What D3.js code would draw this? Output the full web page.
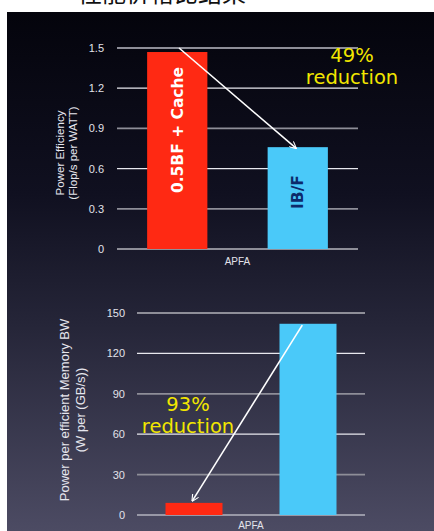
<!DOCTYPE html>
<html>
<head>
<meta charset="utf-8">
<script src="https://cdn.jsdelivr.net/npm/d3@7"></script>
<style>
  html, body { margin: 0; padding: 0; background: #fff; }
  svg { display: block; }
</style>
</head>
<body>
<svg id="chart" width="434" height="531"></svg>
<script>
// Single category, two configurations compared on two metrics
const categories = ["APFA"];
const series = ["0.5BF + Cache", "IB/F"];
const seriesColors = ["#ff2913", "#4ac9f9"];
const seriesLabelColors = ["#ffffff", "#0c2a6b"];

// Power efficiency (Flop/s per WATT)
const efficiencyValues = [1.47, 0.76];
const efficiencyTicks = [0, 0.3, 0.6, 0.9, 1.2, 1.5];
const efficiencyTickLabels = ["0", "0.3", "0.6", "0.9", "1.2", "1.5"];

// Power per efficient memory bandwidth (W per (GB/s))
const memoryValues = [9, 142];
const memoryTicks = [0, 30, 60, 90, 120, 150];
const memoryTickLabels = ["0", "30", "60", "90", "120", "150"];

const svg = d3.select("#chart");

// Slide background
const defs = svg.append("defs");
const grad = defs.append("linearGradient")
  .attr("id", "bg").attr("x1", 0).attr("y1", 0).attr("x2", 0).attr("y2", 1);
grad.append("stop").attr("offset", "0%").attr("stop-color", "#04040c");
grad.append("stop").attr("offset", "35%").attr("stop-color", "#101020");
grad.append("stop").attr("offset", "60%").attr("stop-color", "#252538");
grad.append("stop").attr("offset", "100%").attr("stop-color", "#4c4b63");

svg.append("rect").attr("x", 7).attr("y", 12).attr("width", 427).attr("height", 519)
  .attr("fill", "url(#bg)");

// Slide heading, mostly above the visible area
svg.append("text")
  .attr("x", 78).attr("y", 2)
  .attr("font-family", "Noto Sans CJK SC")
  .attr("font-size", 24)
  .attr("fill", "#111")
  .text("性能价格比结果");

defs.append("marker")
  .attr("id", "arrowhead")
  .attr("viewBox", "0 0 10 10")
  .attr("refX", 9).attr("refY", 5)
  .attr("markerWidth", 7).attr("markerHeight", 7)
  .attr("markerUnits", "userSpaceOnUse")
  .attr("orient", "auto")
  .append("path")
  .attr("d", "M0,0 L10,5 L0,10")
  .attr("fill", "none")
  .attr("stroke", "#fff")
  .attr("stroke-width", 1.6);

function drawPanel(opts) {
  const g = svg.append("g");
  const y = d3.scaleLinear().domain([0, opts.max]).range([opts.y0, opts.y1]);
  const x0 = d3.scaleBand().domain(categories).range([opts.x0, opts.x1]);
  const x1 = d3.scaleBand().domain(series).range([opts.x0, opts.x1])
    .paddingInner(0.5).paddingOuter(0.25);

  // gridlines
  g.selectAll("line.grid").data(opts.ticks).join("line")
    .attr("class", "grid")
    .attr("x1", opts.x0).attr("x2", opts.x1)
    .attr("y1", d => y(d)).attr("y2", d => y(d))
    .attr("stroke", (d, i) => opts.gridWhite(i) ? "#e8e8ee" : "#8e8e98")
    .attr("stroke-width", (d, i) => opts.gridWhite(i) ? 1.2 : 1.8);

  // y axis labels
  const axis = d3.axisLeft(y).tickValues(opts.ticks)
    .tickFormat((d, i) => opts.tickLabels[i]).tickSize(0).tickPadding(0);
  const ag = g.append("g").attr("transform", `translate(${opts.labelX},0)`).call(axis);
  ag.select(".domain").remove();
  ag.selectAll("text")
    .attr("fill", "#e2e2ea")
    .attr("font-family", "Liberation Sans, Arial, sans-serif")
    .attr("font-size", 11);

  // bars
  g.selectAll("rect.bar").data(opts.values).join("rect")
    .attr("class", "bar")
    .attr("x", (d, i) => x1(series[i]))
    .attr("width", x1.bandwidth())
    .attr("y", d => y(d))
    .attr("height", d => y(0) - y(d))
    .attr("fill", (d, i) => seriesColors[i]);

  // category label
  g.append("text")
    .attr("x", x0(categories[0]) + x0.bandwidth() / 2)
    .attr("y", opts.catY)
    .attr("text-anchor", "middle")
    .attr("fill", "#e2e2ea")
    .attr("font-family", "Liberation Sans, Arial, sans-serif")
    .attr("font-size", 10)
    .text(categories[0]);

  // axis title
  const t = g.append("text")
    .attr("transform", `translate(${opts.titleX},${opts.titleY}) rotate(-90)`)
    .attr("text-anchor", "middle")
    .attr("fill", "#e6e6ee")
    .attr("font-family", "Liberation Sans, Arial, sans-serif")
    .attr("font-size", opts.titleSize);
  opts.title.forEach((line, i) => {
    t.append("tspan").attr("x", 0).attr("dy", i === 0 ? 0 : opts.titleGap).text(line);
  });

  // in-bar labels
  if (opts.barLabels) {
    opts.values.forEach((v, i) => {
      const cx = x1(series[i]) + x1.bandwidth() / 2;
      const cy = opts.barLabelY[i];
      g.append("text")
        .attr("transform", `translate(${cx + 5.5},${cy}) rotate(-90)`)
        .attr("text-anchor", "middle")
        .attr("fill", seriesLabelColors[i])
        .attr("font-family", "DejaVu Sans, sans-serif")
        .attr("font-weight", "bold")
        .attr("font-size", 15.5)
        .text(series[i]);
    });
  }

  // arrow from the taller bar towards the shorter one
  const from = opts.arrowFrom(x1, y);
  const to = opts.arrowTo(x1, y);
  g.append("line")
    .attr("x1", from[0]).attr("y1", from[1])
    .attr("x2", to[0]).attr("y2", to[1])
    .attr("stroke", "#fff").attr("stroke-width", 1.6)
    .attr("marker-end", "url(#arrowhead)");

  // reduction note, two lines
  [opts.notePct, "reduction"].forEach((line, i) => {
    g.append("text")
      .attr("x", opts.noteX)
      .attr("y", opts.noteY + i * 22)
      .attr("text-anchor", "middle")
      .attr("fill", "#f2e600")
      .attr("font-family", "DejaVu Sans, sans-serif")
      .attr("font-size", 19.5)
      .text(line);
  });
}

drawPanel({
  values: efficiencyValues, max: 1.5,
  ticks: efficiencyTicks, tickLabels: efficiencyTickLabels,
  x0: 117, x1: 358, y0: 249, y1: 48,
  labelX: 104, catY: 265,
  gridWhite: i => i === 2 || i === 4,
  title: ["Power Efficiency", "(Flop/s per WATT)"],
  titleX: 64, titleY: 153, titleSize: 11.5, titleGap: 13,
  barLabels: true, barLabelY: [130, 192],
  arrowFrom: (x, y) => [x(series[0]) + x.bandwidth() * 0.53, y(1.5)],
  arrowTo: (x, y) => [x(series[1]) + x.bandwidth() * 0.47, y(efficiencyValues[1]) + 1],
  noteX: 352, noteY: 62, notePct: "49%"
});

drawPanel({
  values: memoryValues, max: 150,
  ticks: memoryTicks, tickLabels: memoryTickLabels,
  x0: 137, x1: 365, y0: 515, y1: 313,
  labelX: 125, catY: 529,
  gridWhite: i => i === 0 || i === 2 || i === 4,
  title: ["Power per efficient Memory BW", "(W per (GB/s))"],
  titleX: 69, titleY: 410, titleSize: 13, titleGap: 16,
  barLabels: false,
  arrowFrom: (x, y) => [x(series[1]) + x.bandwidth() * 0.4, y(141)],
  arrowTo: (x, y) => [x(series[0]) + x.bandwidth() * 0.47, y(memoryValues[0]) - 2],
  noteX: 188, noteY: 411, notePct: "93%"
});
</script>
</body>
</html>
